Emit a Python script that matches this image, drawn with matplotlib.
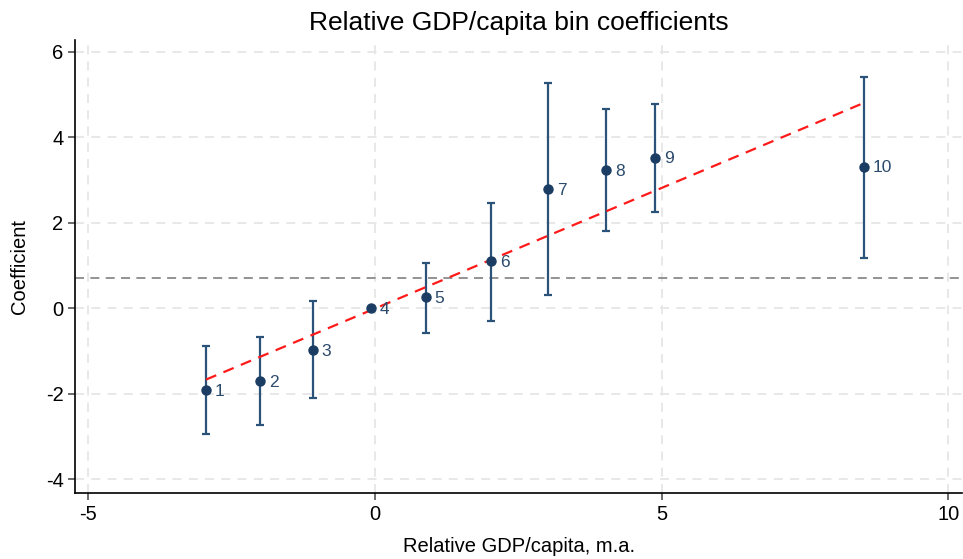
import matplotlib.pyplot as plt
import numpy as np

plt.rcParams['font.family'] = ['Liberation Sans', 'DejaVu Sans']
plt.rcParams['axes.unicode_minus'] = False

# bin coefficients with 95% confidence bounds
bins = [1, 2, 3, 4, 5, 6, 7, 8, 9, 10]
gdp_rel = np.array([-2.95, -2.01, -1.09, -0.07, 0.88, 2.02, 3.02, 4.03, 4.89, 8.53])
coef = np.array([-1.91, -1.70, -0.97, 0.0, 0.26, 1.10, 2.79, 3.24, 3.53, 3.32])
ci_low = np.array([-2.94, -2.73, -2.10, 0.0, -0.57, -0.29, 0.31, 1.82, 2.26, 1.19])
ci_high = np.array([-0.87, -0.67, 0.17, 0.0, 1.07, 2.46, 5.27, 4.67, 4.79, 5.42])

# linear fit through the bins and the mean reference line
fit_slope = 0.564
fit_intercept = 0.0
ref_level = 0.72

fig = plt.figure(figsize=(9.63, 5.59), dpi=100)
ax = fig.add_axes([0.0782, 0.1186, 0.9208, 0.8098])

ax.set_xlim(-5.23, 10.24)
ax.set_ylim(-4.31, 6.28)
ax.set_xticks([-5, 0, 5, 10])
ax.set_yticks([-4, -2, 0, 2, 4, 6])
ax.grid(True, color='#e6e6e6', linestyle=(0, (5, 4)), linewidth=1.3)
ax.set_axisbelow(True)

ax.axhline(ref_level, color='#8a8a8a', linestyle=(0, (5, 3.5)), linewidth=1.3, zorder=2)

xf = np.array([gdp_rel[0], gdp_rel[-1]])
ax.plot(xf, fit_intercept + fit_slope * xf, color='#ff1a1a',
        linestyle=(0, (5, 3.5)), linewidth=1.6, zorder=4)

has_ci = ci_high > ci_low
ax.errorbar(gdp_rel[has_ci], coef[has_ci],
            yerr=[coef[has_ci] - ci_low[has_ci], ci_high[has_ci] - coef[has_ci]],
            fmt='none', ecolor='#2b5279', elinewidth=1.6, capsize=3.2, capthick=1.6,
            zorder=3)
ax.plot(gdp_rel, coef, 'o', color='#1b3d63', markersize=6.5, zorder=5)

for b, x, y in zip(bins, gdp_rel, coef):
    ax.annotate(str(b), (x, y), xytext=(6.5, -1), textcoords='offset points',
                va='center', ha='left', fontsize=12.5, color='#2b4a6c', zorder=6)

for side in ['top', 'right']:
    ax.spines[side].set_visible(False)
ax.spines['left'].set_linewidth(1.2)
ax.spines['bottom'].set_linewidth(1.2)
ax.tick_params(direction='out', length=5, width=1.1, labelsize=14.5, color='#444444')

ax.set_title('Relative GDP/capita bin coefficients', fontsize=19, pad=7)
ax.set_xlabel('Relative GDP/capita, m.a.', fontsize=14.5, labelpad=10)
ax.set_ylabel('Coefficient', fontsize=14.5, labelpad=12)

fig.savefig('out.png', dpi=100)
